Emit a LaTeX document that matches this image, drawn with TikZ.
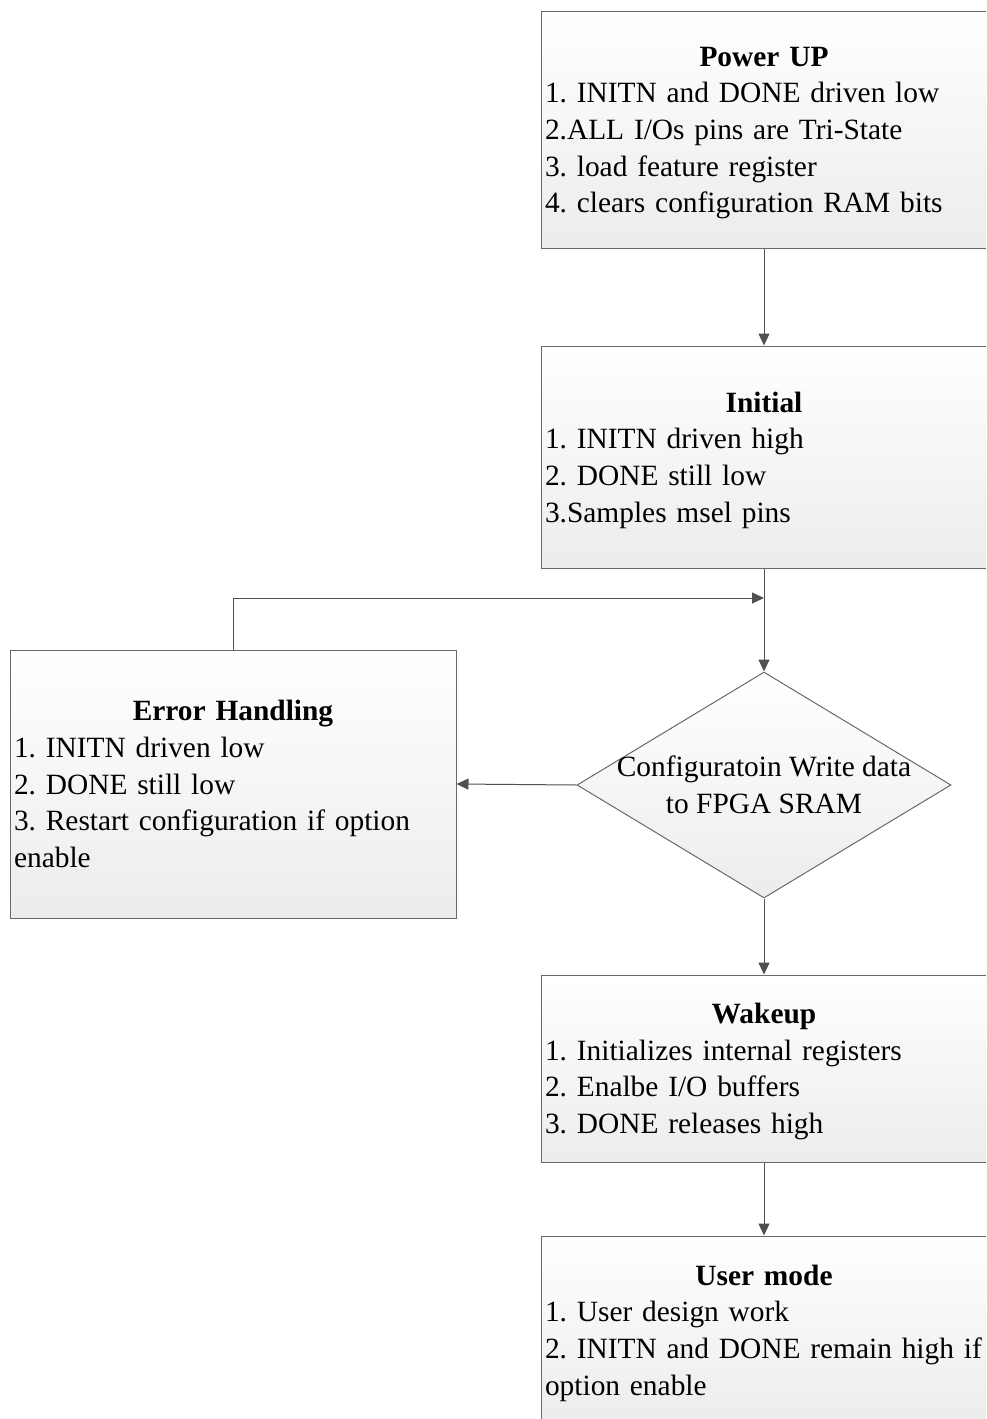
\documentclass[tikz,border=0pt]{standalone}
\usepackage{fontspec}
\setmainfont{Liberation Serif}
\usetikzlibrary{shapes.geometric,arrows.meta}
\definecolor{bordc}{RGB}{105,105,105}
\definecolor{linec}{RGB}{80,80,80}
\definecolor{shadec}{RGB}{236,236,236}
\newcommand\vs{\rule[-8.2pt]{0pt}{36.5pt}}
\frenchspacing
\begin{document}
\begin{tikzpicture}[x=1pt,y=-1pt,
  box/.style={draw=bordc, line width=1pt, top color=white, bottom color=shadec, rectangle,
    minimum width=446pt, text width=438pt, inner xsep=4pt, inner ysep=0pt,
    font=\fontsize{29.4}{36.7}\selectfont\parindent0pt\frenchspacing},
  dia/.style={draw=bordc, line width=1pt, top color=white, bottom color=shadec, diamond,
    minimum width=374pt, minimum height=226pt, inner sep=0pt},
  dtxt/.style={align=center, inner sep=0pt, font=\fontsize{29.4}{36.7}\selectfont},
  arr/.style={draw=linec, line width=1pt, -{Triangle[length=12pt,width=11pt]}}]
\clip (0,0) rectangle (986,1419);

\node[box, minimum height=237pt] (pu) at (764,129.5)
  {\centering\textbf{Power UP}\vs\par\raggedright
   1. INITN and DONE driven low\vs\\
   2.ALL I/Os pins are Tri-State\vs\\
   3. load feature register\vs\\
   4. clears configuration RAM bits\vs};

\node[box, minimum height=222pt] (init) at (764,457)
  {\centering\textbf{Initial}\vs\par\raggedright
   1. INITN driven high\vs\\
   2. DONE still low\vs\\
   3.Samples msel pins\vs};

\node[dia] (cfg) at (764,785) {};
\node[dtxt] (cfgtxt) at (764,785) {Configuratoin Write data\vs\\to FPGA SRAM\vs};

\node[box, minimum height=268pt] (err) at (233,784)
  {\centering\textbf{Error Handling}\vs\par\raggedright
   1. INITN driven low\vs\\
   2. DONE still low\vs\\
   \mbox{3. Restart configuration if option}\vs\\
   enable\vs};

\node[box, minimum height=187pt] (wake) at (764,1068.5)
  {\centering\textbf{Wakeup}\vs\par\raggedright
   1. Initializes internal registers\vs\\
   2. Enalbe I/O buffers\vs\\
   3. DONE releases high\vs};

\node[box, minimum height=188pt] (user) at (764,1330)
  {\centering\textbf{User mode}\vs\par\raggedright
   1. User design work\vs\\
   \mbox{2. INITN and DONE remain high if}\vs\\
   option enable\vs};

\coordinate (join) at (764,598);

\draw[arr] (pu.south) -- (init.north);
\draw[arr] (init.south) -- (cfg.north);
\draw[arr] (cfg.west) -- (err.east);
\draw[arr] (err.north) |- (join);
\draw[arr] (cfg.south) -- (wake.north);
\draw[arr] (wake.south) -- (user.north);
\end{tikzpicture}
\end{document}
